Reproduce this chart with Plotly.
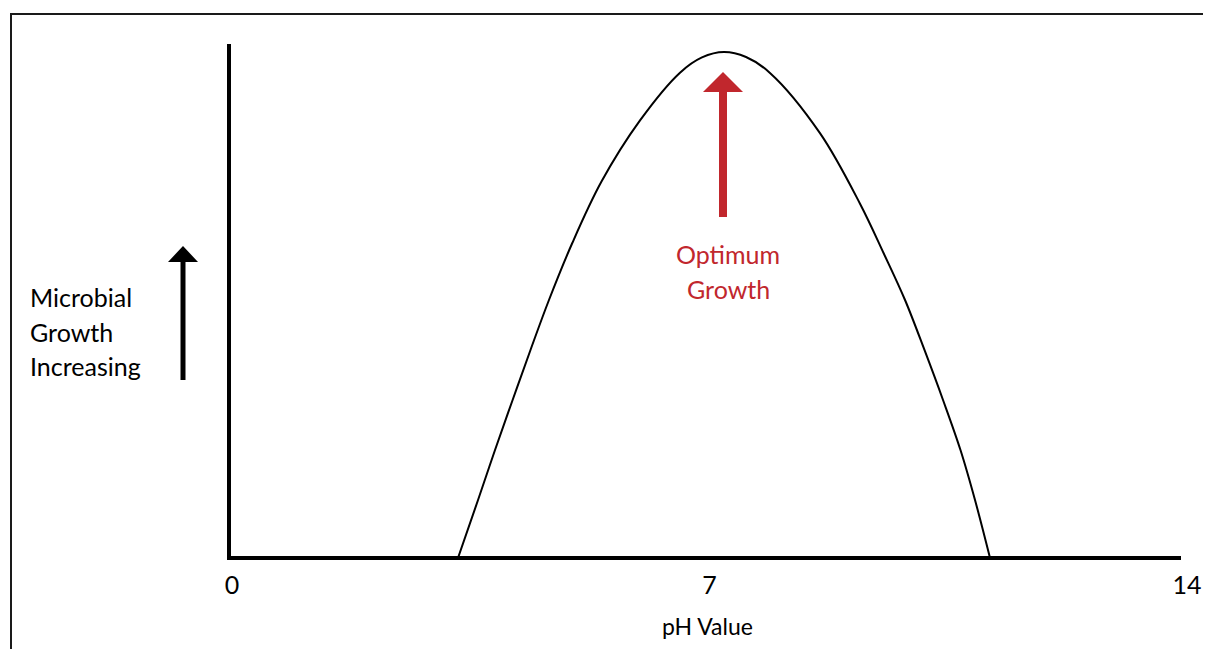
import plotly.graph_objects as go

# ---- data ----
ph_values = [3.313, 3.607, 3.856, 4.114, 4.376, 4.647, 4.989, 5.417, 5.982, 6.568, 6.890, 7.213,
             7.536, 7.887, 8.620, 9.207, 9.559, 9.867, 10.152, 10.424, 10.680, 10.893, 11.113]
growth_values = [0.0, 11.46, 21.34, 31.23, 41.11, 50.99, 62.25, 74.39, 86.48, 95.91, 98.93, 100.0,
                 99.01, 95.87, 83.97, 70.02, 60.08, 50.99, 41.11, 31.23, 21.34, 11.46, 0.0]
tick_values = [0, 7, 14]
tick_labels = ["0", "7", "14"]
y_label_lines = ["Microbial", "Growth", "Increasing"]
optimum_lines = ["Optimum", "Growth"]
x_title = "pH Value"

# the page body has an 8px margin: figure occupies window pixels 8..1203 x 8..649
OFF = 8
W, H = 1211 - 2 * OFF, 657 - 2 * OFF
PL, PR, PT, PB = 229, 1200, 44, 558          # plot area in window pixels
L, R, T, B = PL - OFF, (OFF + W) - PR, PT - OFF, (OFF + H) - PB
PW, PH = PR - PL, PB - PT


def px(x):
    return (x - PL) / PW


def py(y):
    return (PB - y) / PH


FONT = "Lato"
RED = "#C1272D"
X0, XS = 232, 68.21      # window x of pH 0, pixels per pH unit
YS = 5.06                # pixels per growth unit

fig = go.Figure()
fig.add_trace(go.Scatter(x=ph_values, y=growth_values, mode="lines",
                         line=dict(color="black", width=2, shape="spline", smoothing=1),
                         hoverinfo="skip", showlegend=False))

shapes = [
    # outer frame
    dict(type="rect", xref="paper", yref="paper", x0=px(11), x1=px(1240), y0=py(14), y1=py(700),
         line=dict(color="#1a1a1a", width=2)),
    # axes
    dict(type="line", xref="paper", yref="paper", x0=px(227), x1=px(1181), y0=py(558), y1=py(558),
         line=dict(color="black", width=4)),
    dict(type="line", xref="paper", yref="paper", x0=px(229), x1=px(229), y0=py(44), y1=py(560),
         line=dict(color="black", width=4)),
    # black arrow
    dict(type="line", xref="paper", yref="paper", x0=px(183), x1=px(183), y0=py(380), y1=py(260),
         line=dict(color="black", width=5)),
    dict(type="path", xref="paper", yref="paper",
         path=f"M {px(168)},{py(262)} L {px(198)},{py(262)} L {px(183)},{py(246)} Z",
         fillcolor="black", line=dict(color="black", width=0)),
    # red arrow
    dict(type="line", xref="paper", yref="paper", x0=px(723), x1=px(723), y0=py(217), y1=py(90),
         line=dict(color=RED, width=8)),
    dict(type="path", xref="paper", yref="paper",
         path=f"M {px(703)},{py(92)} L {px(743)},{py(92)} L {px(723)},{py(72)} Z",
         fillcolor=RED, line=dict(color=RED, width=0)),
]

annotations = []
for i, t in enumerate(y_label_lines):
    annotations.append(dict(text=t, xref="paper", yref="paper", x=px(28), y=py(297 + 34.5 * i),
                            xanchor="left", yanchor="middle", showarrow=False,
                            font=dict(family=FONT, size=25, color="black")))
for i, t in enumerate(optimum_lines):
    annotations.append(dict(text=t, xref="paper", yref="paper", x=px(728), y=py(254 + 35 * i),
                            xanchor="center", yanchor="middle", showarrow=False,
                            font=dict(family=FONT, size=25, color=RED)))
annotations.append(dict(text=x_title, xref="paper", yref="paper", x=px(707), y=py(626),
                        xanchor="center", yanchor="middle", showarrow=False,
                        font=dict(family=FONT, size=23, color="black")))

fig.update_layout(
    width=W, height=H,
    margin=dict(l=L, r=R, t=T, b=B),
    paper_bgcolor="white", plot_bgcolor="white",
    shapes=shapes, annotations=annotations,
    xaxis=dict(range=[(PL - X0) / XS, (PR - X0) / XS], tickvals=tick_values,
               ticktext=tick_labels, ticks="", showgrid=False, zeroline=False, showline=False,
               ticklabelstandoff=10,
               tickfont=dict(family=FONT, size=25, color="black"), fixedrange=True),
    yaxis=dict(range=[0, PH / YS], visible=False, fixedrange=True),
)

fig.write_html("out.html")
